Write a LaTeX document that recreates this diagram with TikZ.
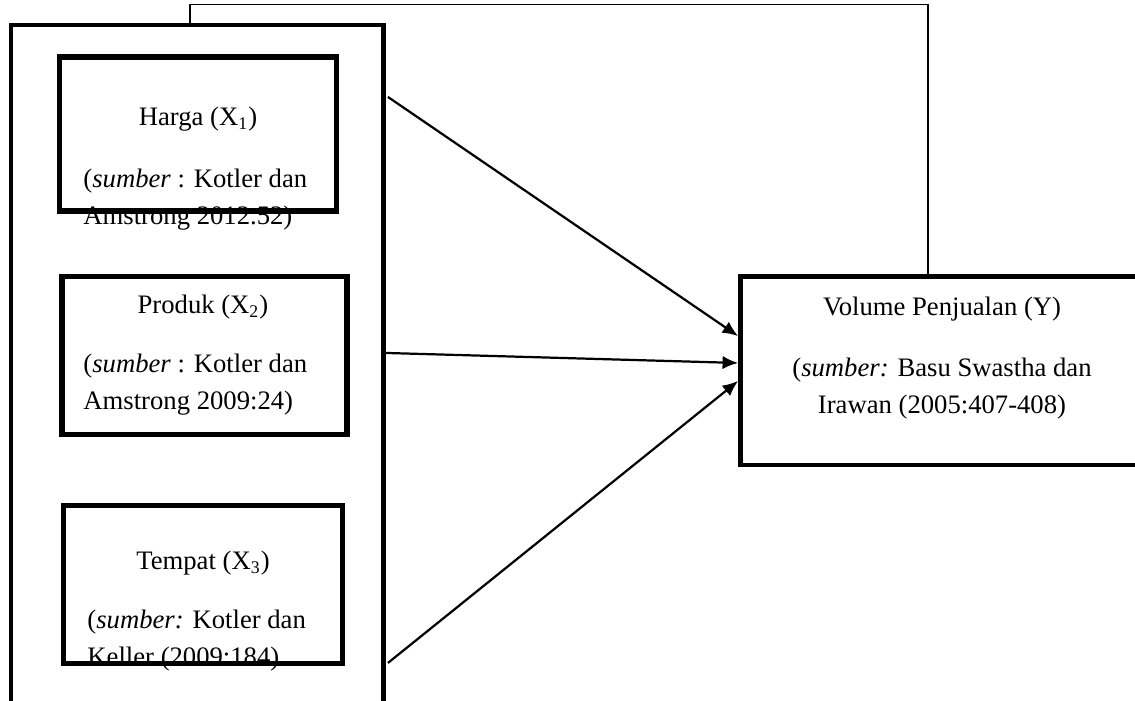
\documentclass[tikz,border=0pt]{standalone}
\usepackage{fontspec}
\setmainfont{Liberation Serif}
\usetikzlibrary{arrows.meta}
\tikzset{
  frame/.style   = {rectangle, draw, line width=2pt, inner sep=0pt},
  varbox/.style  = {rectangle, draw, line width=2.4pt, inner sep=0pt},
  title/.style   = {font=\fontsize{12}{14}\selectfont, inner sep=0pt, anchor=base},
  src/.style     = {font=\fontsize{12}{16.5}\selectfont, inner sep=0pt, align=left, anchor=base west},
  flow/.style    = {-{Latex[length=7pt,width=6pt]}, line width=1pt},
  link/.style    = {line width=0.65pt},
}

\begin{document}
\begin{tikzpicture}[x=0.45pt, y=-0.45pt]
  \useasboundingbox (0,0) rectangle (1135,701);
  \clip (0,0) rectangle (1135,701);

  % texts first, the box lines run over them
  \node[title] (hargaT) at (198,125) {Harga (X\textsubscript{1})};
  \node[src] (hargaS) at (83,224) {(\textit{sumber} : Kotler dan\\Amstrong 2012.52)};
  \node[title] (produkT) at (203,313) {Produk (X\textsubscript{2})};
  \node[src] (produkS) at (83,409) {(\textit{sumber} : Kotler dan\\Amstrong 2009:24)};
  \node[title] (tempatT) at (203,569) {Tempat (X\textsubscript{3})};
  \node[src] (tempatS) at (87,665) {(\textit{sumber:} Kotler dan\\Keller (2009:184)};
  \node[title] (volumeT) at (942,315) {Volume Penjualan (Y)};
  \node[src, align=center, anchor=base] (volumeS) at (942,413) {(\textit{sumber:} Basu Swastha dan\\Irawan (2005:407-408)};

  % boxes
  \node[frame, minimum width=167.6pt, minimum height=330.75pt] (frame) at (197.25,392.5) {};
  \node[varbox, minimum width=124.65pt, minimum height=69.3pt] (harga) at (198,134) {};
  \node[varbox, minimum width=128.25pt, minimum height=71.1pt] (produk) at (204.5,355.5) {};
  \node[varbox, minimum width=125.55pt, minimum height=71.1pt] (tempat) at (203,584.5) {};
  \node[varbox, line width=2.1pt, minimum width=193.3pt, minimum height=84.8pt] (volume) at (955.25,370.75) {};

  \draw[flow] ([xshift=1pt, yshift=133pt]frame.east) -- ([yshift=15.6pt]volume.west);
  \draw[flow] ([yshift=17.8pt]frame.east) -- ([yshift=3.5pt]volume.west);
  \draw[flow] ([xshift=1pt, yshift=-121.7pt]frame.east) -- ([yshift=-4.6pt]volume.west);
  \draw[link] ([xshift=-3.3pt]frame.north) -- ++(0,-18) -| ([xshift=-12.3pt]volume.north);
\end{tikzpicture}
\end{document}
